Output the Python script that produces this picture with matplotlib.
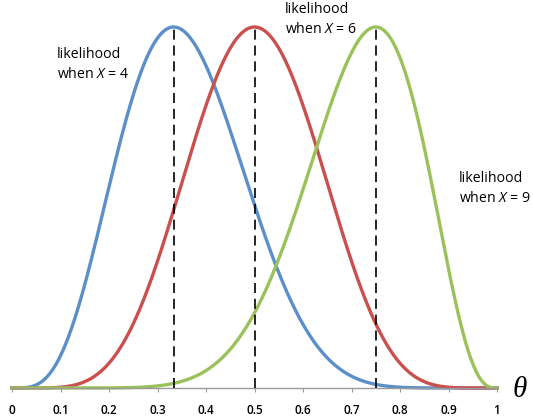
import numpy as np
import matplotlib
matplotlib.use("Agg")
import matplotlib.pyplot as plt

plt.rcParams["mathtext.fontset"] = "custom"
plt.rcParams["mathtext.it"] = "Open Sans:italic"
plt.rcParams["mathtext.rm"] = "Open Sans"

# binomial likelihoods for n trials, one curve per observed X
n_trials = 12
observed_x = [4, 6, 9]
curve_colors = ["#5B8FC9", "#C9504D", "#9BC15A"]
label_xy = [(0.093, 0.945), (0.563, 1.07), (0.922, 0.6)]
tick_values = [0, 0.1, 0.2, 0.3, 0.4, 0.5, 0.6, 0.7, 0.8, 0.9, 1]
tick_labels = ["0", "0.1", "0.2", "0.3", "0.4", "0.5", "0.6", "0.7", "0.8", "0.9", "1"]

theta = np.linspace(0, 1, 600)

fig = plt.figure(figsize=(5.33, 4.18), dpi=100)
ax = fig.add_axes([12 / 533, 30 / 418, 485 / 533, 361 / 418])

for x, color, (tx, ty) in zip(observed_x, curve_colors, label_xy):
    mle = x / n_trials
    lik = theta ** x * (1 - theta) ** (n_trials - x)
    lik = lik / (mle ** x * (1 - mle) ** (n_trials - x))
    ax.plot(theta, lik, color=color, lw=2.4, clip_on=False, zorder=2)
    ax.plot([mle, mle], [0, 1], color="black", lw=1.2, ls=(0, (6, 3.5)), zorder=3)
    ax.text(tx, ty, "likelihood\nwhen $X$ = %d" % x, fontsize=10.2, family="Open Sans",
            ha="left", va="top", linespacing=1.45, clip_on=False)

ax.set_xlim(0, 1)
ax.set_ylim(0, 1)
ax.set_xticks(tick_values)
ax.set_xticklabels(tick_labels, fontsize=8.5, family="Open Sans", fontweight="semibold")
ax.set_yticks([])
for side in ["left", "right", "top"]:
    ax.spines[side].set_visible(False)
ax.spines["bottom"].set_color("#9a9a9a")
ax.spines["bottom"].set_linewidth(1)
ax.tick_params(axis="x", direction="out", length=3, color="#9a9a9a", pad=8.5)
ax.patch.set_visible(False)

fig.text(520 / 533, 1 - 390 / 418, "θ", fontsize=21, family="Liberation Serif",
         style="italic", ha="center", va="center")

fig.savefig("out.png", dpi=100)
